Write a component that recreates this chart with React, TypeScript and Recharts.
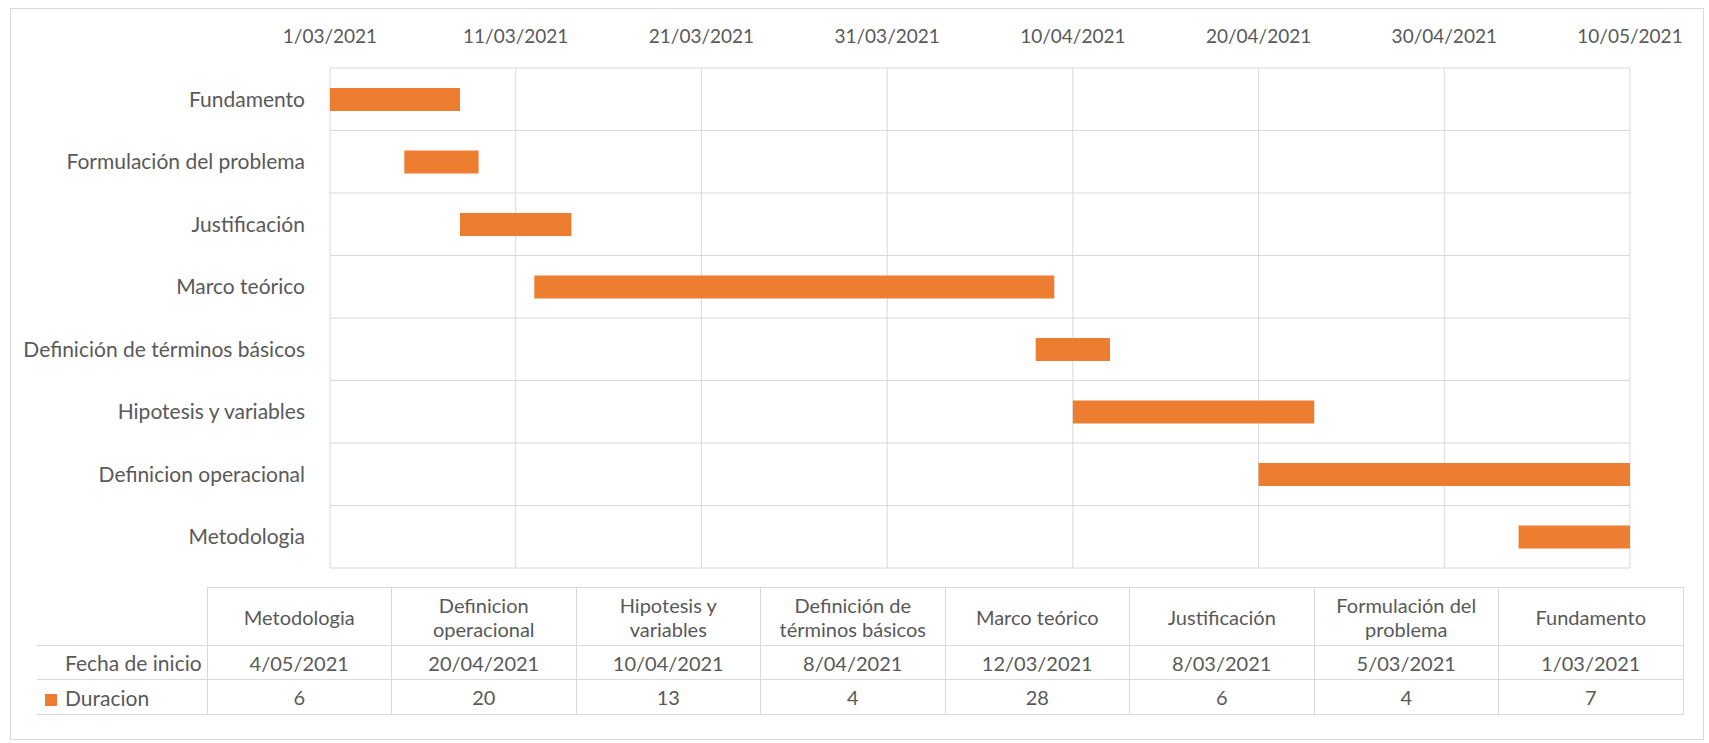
import React from 'react';
import { BarChart, Bar, XAxis, YAxis, CartesianGrid } from 'recharts';

const categories = [
    'Metodologia',
    'Definicion operacional',
    'Hipotesis y variables',
    'Definición de términos básicos',
    'Marco teórico',
    'Justificación',
    'Formulación del problema',
    'Fundamento'
];
const startDates = ['4/05/2021', '20/04/2021', '10/04/2021', '8/04/2021', '12/03/2021', '8/03/2021', '5/03/2021', '1/03/2021'];
const durations = [6, 20, 13, 4, 28, 6, 4, 7];
const axisTicks = ['1/03/2021', '11/03/2021', '21/03/2021', '31/03/2021', '10/04/2021', '20/04/2021', '30/04/2021', '10/05/2021'];

const ORANGE = '#ED7D31';
const GRID = '#d9d9d9';
const TEXT = '#595959';
const FONT = 'Lato, "Open Sans", sans-serif';

// dd/mm/yyyy <-> day number
const toDay = (s: string) => {
    const [d, m, y] = s.split('/').map(Number);
    return Date.UTC(y, m - 1, d) / 86400000;
};
const fmtDay = (v: number) => {
    const dt = new Date(v * 86400000);
    return `${dt.getUTCDate()}/${String(dt.getUTCMonth() + 1).padStart(2, '0')}/${dt.getUTCFullYear()}`;
};

const tickDays = axisTicks.map(toDay);
const chartData = categories.map((name, i) => ({
    name,
    start: toDay(startDates[i]),
    dur: durations[i]
}));

const cellBorder = `1px solid ${GRID}`;
const COL_W = 184.5;

export default function App() {
    return (
        <div style={{ position: 'absolute', left: 0, top: 0, width: 1709, height: 743, background: '#fff', fontFamily: FONT }}>
            <div style={{ position: 'absolute', left: 10, top: 8, width: 1694, height: 732, border: cellBorder, boxSizing: 'border-box' }} />
            <div style={{ position: 'absolute', left: 0, top: 0 }}>
                <BarChart
                    width={1709}
                    height={580}
                    data={chartData}
                    layout="vertical"
                    margin={{ top: 28, right: 79, left: 30, bottom: 12 }}
                    barCategoryGap={0}
                >
                    <CartesianGrid
                        stroke={GRID}
                        horizontalCoordinatesGenerator={({ offset }: any) =>
                            categories.map((_, i) => offset.top + (i * offset.height) / categories.length)
                                .concat([offset.top + offset.height])
                        }
                    />
                    <XAxis
                        type="number"
                        orientation="top"
                        domain={[tickDays[0], tickDays[tickDays.length - 1]]}
                        ticks={tickDays}
                        tickFormatter={fmtDay}
                        axisLine={false}
                        tickLine={false}
                        tickSize={0}
                        tickMargin={25}
                        height={40}
                        tick={{ fill: TEXT, fontSize: 19, fontFamily: FONT }}
                    />
                    <YAxis
                        type="category"
                        dataKey="name"
                        reversed
                        width={300}
                        axisLine={false}
                        tickLine={false}
                        tickSize={0}
                        tickMargin={25}
                        interval={0}
                        tick={{ fill: TEXT, fontSize: 21, fontFamily: FONT }}
                    />
                    <Bar
                        dataKey={(d: any) => [d.start, d.start + d.dur]}
                        fill={ORANGE}
                        barSize={23}
                        isAnimationActive={false}
                    />
                </BarChart>
            </div>
            <table
                style={{
                    position: 'absolute',
                    left: 37,
                    top: 587,
                    borderCollapse: 'collapse',
                    tableLayout: 'fixed',
                    width: 170 + COL_W * categories.length,
                    color: TEXT,
                    fontSize: 20,
                    fontFamily: FONT,
                    textAlign: 'center'
                }}
            >
                <colgroup>
                    <col style={{ width: 170 }} />
                    {categories.map(c => <col key={c} style={{ width: COL_W }} />)}
                </colgroup>
                <tbody>
                    <tr style={{ height: 58 }}>
                        <td style={{ borderBottom: cellBorder }} />
                        {categories.map(c => (
                            <td key={c} style={{ border: cellBorder, padding: '0 14px', lineHeight: '24px' }}>{c}</td>
                        ))}
                    </tr>
                    <tr style={{ height: 34 }}>
                        <td style={{ borderBottom: cellBorder, textAlign: 'left', paddingLeft: 28, fontSize: 21, whiteSpace: 'nowrap' }}>Fecha de inicio</td>
                        {startDates.map((s, i) => (
                            <td key={i} style={{ border: cellBorder }}>{s}</td>
                        ))}
                    </tr>
                    <tr style={{ height: 35 }}>
                        <td style={{ borderBottom: cellBorder, textAlign: 'left', paddingLeft: 8, fontSize: 21, whiteSpace: 'nowrap' }}>
                            <span style={{ display: 'inline-block', width: 12, height: 12, background: ORANGE, marginRight: 8 }} />
                            Duracion
                        </td>
                        {durations.map((d, i) => (
                            <td key={i} style={{ border: cellBorder }}>{d}</td>
                        ))}
                    </tr>
                </tbody>
            </table>
        </div>
    );
}
